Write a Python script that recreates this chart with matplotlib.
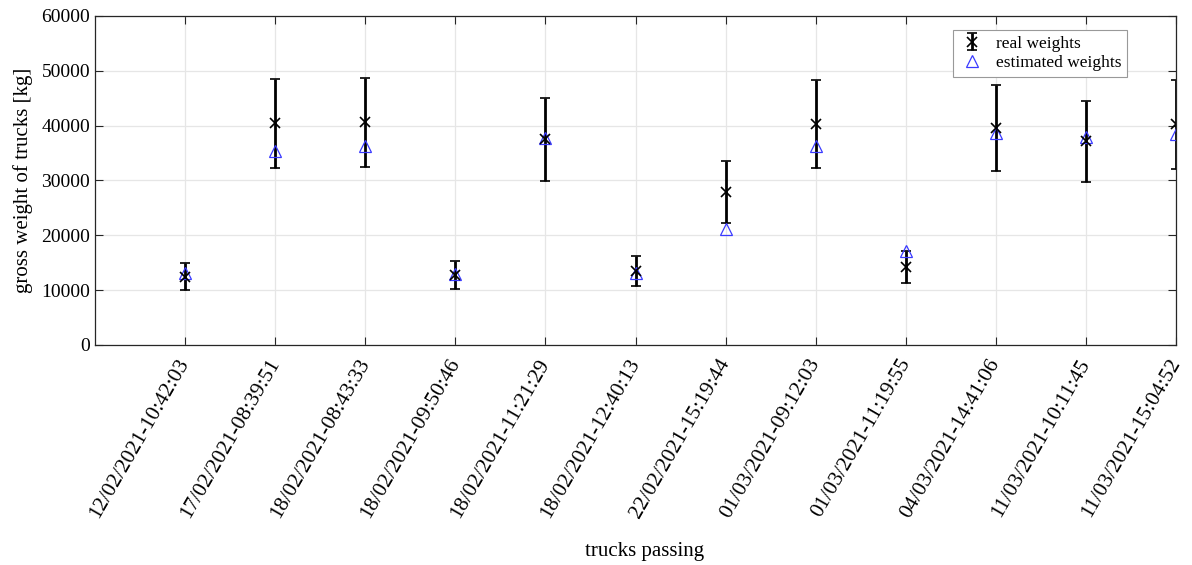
import numpy as np
import matplotlib.pyplot as plt

plt.rcParams['font.family'] = ['Liberation Serif', 'DejaVu Serif']

# timestamps of the trucks passing over the sensor
passings = ['12/02/2021-10:42:03', '17/02/2021-08:39:51', '18/02/2021-08:43:33',
            '18/02/2021-09:50:46', '18/02/2021-11:21:29', '18/02/2021-12:40:13',
            '22/02/2021-15:19:44', '01/03/2021-09:12:03', '01/03/2021-11:19:55',
            '04/03/2021-14:41:06', '11/03/2021-10:11:45', '11/03/2021-15:04:52']

# weighbridge readings [kg] and their tolerance
real_w = [12470, 40420, 40630, 12800, 37480, 13550, 27930, 40340, 14280, 39580, 37180, 40220]
real_err = [2440, 8090, 8120, 2590, 7570, 2740, 5630, 8000, 2920, 7850, 7390, 8120]

# weights estimated from the measurements [kg]
est_w = [13070, 35440, 36350, 12950, 37810, 13190, 21210, 36350, 17200, 38610, 37880, 38420]

x = np.arange(1, len(passings) + 1)

fig = plt.figure(figsize=(11.92, 5.65), dpi=100)
ax = fig.add_axes([0.0797, 0.3894, 0.9069, 0.5823])

h_real = ax.errorbar(x, real_w, yerr=real_err, fmt='x', color='black', ecolor='black',
                     elinewidth=2, capsize=3.5, capthick=2, markersize=7, mew=1.2)
h_est, = ax.plot(x, est_w, '^', markerfacecolor='none', markeredgecolor='#3a3aff',
                 markersize=9, mew=0.9, linestyle='none')

ax.set_xlim(0, 12)
ax.set_ylim(0, 60000)
ax.set_xticks(x)
ax.set_xticklabels(passings, rotation=60, ha='right', va='center',
                   rotation_mode='anchor', fontsize=15.4)
ax.set_yticks(np.arange(0, 60001, 10000))
ax.tick_params(axis='y', labelsize=14)
ax.tick_params(direction='in', top=True, right=True, length=6, width=0.8, color='#262626')
ax.tick_params(axis='x', pad=11)

ax.grid(True, color='#e6e6e6', linewidth=0.9)
ax.set_axisbelow(True)
for sp in ax.spines.values():
    sp.set_color('#262626')
    sp.set_linewidth(0.9)

ax.set_xlabel('trucks passing', fontsize=15)
ax.xaxis.set_label_coords(0.508, -0.598)
ax.set_ylabel('gross weight of trucks [kg]', fontsize=15)
ax.yaxis.set_label_coords(-0.057, 0.5)

leg = ax.legend([h_real, h_est], ['real weights', 'estimated weights'],
                loc='upper right', bbox_to_anchor=(0.9547, 0.956), borderaxespad=0,
                fontsize=12.5, fancybox=False, edgecolor='#999999', framealpha=1,
                borderpad=0.3, labelspacing=0.2, handlelength=1.6, handletextpad=0.6)
leg.get_frame().set_linewidth(0.8)

fig.savefig('out.png', dpi=100)
